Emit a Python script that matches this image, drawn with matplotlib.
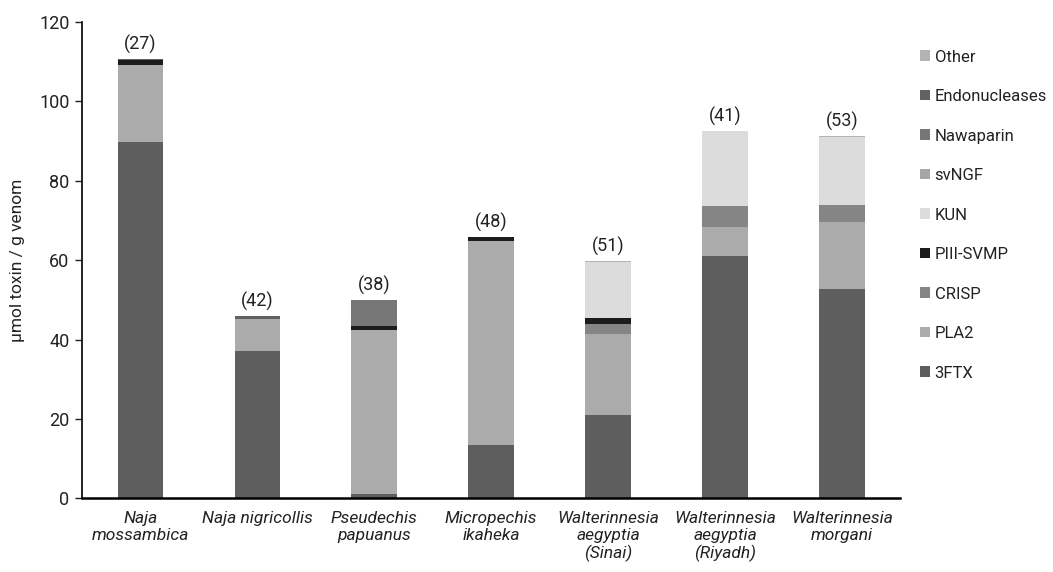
import matplotlib
matplotlib.use("Agg")
import matplotlib.pyplot as plt
import numpy as np

plt.rcParams['font.family'] = ['Roboto', 'DejaVu Sans']

species = ["Naja\nmossambica", "Naja nigricollis", "Pseudechis\npapuanus",
           "Micropechis\nikaheka", "Walterinnesia\naegyptia\n(Sinai)",
           "Walterinnesia\naegyptia\n(Riyadh)", "Walterinnesia\nmorgani"]
counts = ["(27)", "(42)", "(38)", "(48)", "(51)", "(41)", "(53)"]

toxin_classes = ["3FTX", "PLA2", "CRISP", "PIII-SVMP", "KUN", "svNGF",
                 "Nawaparin", "Endonucleases", "Other"]

ftx3 =          [89.8, 37.2, 1.0, 13.4, 21.0, 61.1, 52.8]
pla2 =          [19.4, 8.0, 41.4, 51.4, 20.3, 7.3, 16.7]
crisp =         [0.0, 0.0, 0.0, 0.0, 2.5, 5.2, 4.5]
piii_svmp =     [1.2, 0.0, 1.0, 1.1, 1.7, 0.0, 0.0]
kun =           [0.0, 0.0, 0.0, 0.0, 14.0, 18.9, 17.0]
svngf =         [0.0, 0.0, 0.0, 0.0, 0.0, 0.0, 0.0]
nawaparin =     [0.0, 0.0, 6.6, 0.0, 0.0, 0.0, 0.0]
endonucleases = [0.3, 0.7, 0.0, 0.0, 0.0, 0.0, 0.0]
other =         [0.0, 0.0, 0.0, 0.0, 0.3, 0.1, 0.2]

series = [ftx3, pla2, crisp, piii_svmp, kun, svngf, nawaparin, endonucleases, other]
colors = ["#5e5e5e", "#ababab", "#858585", "#1c1c1c", "#dcdcdc", "#a6a6a6",
          "#777777", "#626262", "#b3b3b3"]

fig = plt.figure(figsize=(10.53, 5.72), dpi=100)
ax = fig.add_axes([0.0779, 0.1288, 0.7771, 0.8327])

x = np.arange(len(species))
bottom = np.zeros(len(species))
handles = []
for name, vals, c in zip(toxin_classes, series, colors):
    vals = np.array(vals)
    h = ax.bar(x, vals, 0.39, bottom=bottom, color=c, label=name, linewidth=0)
    handles.append(h)
    bottom += vals

for xi, tot, lab in zip(x, bottom, counts):
    ax.annotate(lab, (xi, tot), xytext=(0, 3.5), textcoords='offset points',
                ha='center', va='bottom', fontsize=13, color='#222222')

ax.set_xlim(-0.5, 6.5)
ax.set_ylim(0, 120)
ax.set_yticks(np.arange(0, 121, 20))
ax.set_xticks(x)
ax.set_xticklabels(species, style='italic', fontsize=12.5, color='#222222',
                   linespacing=1.15)
ax.tick_params(axis='x', length=0, pad=9)
ax.tick_params(axis='y', length=5, width=1, labelsize=13, colors='#222222', pad=4)
ax.set_ylabel("µmol toxin / g venom", fontsize=12.5, color='#222222', labelpad=10)

for s in ['top', 'right']:
    ax.spines[s].set_visible(False)
ax.spines['left'].set_linewidth(1.2)
ax.spines['bottom'].set_linewidth(1.8)

leg = fig.legend(handles[::-1], toxin_classes[::-1], loc='upper left',
                 bbox_to_anchor=(0.867, 0.925), frameon=False, fontsize=12,
                 handlelength=0.6, handleheight=0.6, handletextpad=0.3,
                 labelspacing=1.47, borderaxespad=0)
for t in leg.get_texts():
    t.set_color('#222222')

fig.savefig("out.png", dpi=100)
